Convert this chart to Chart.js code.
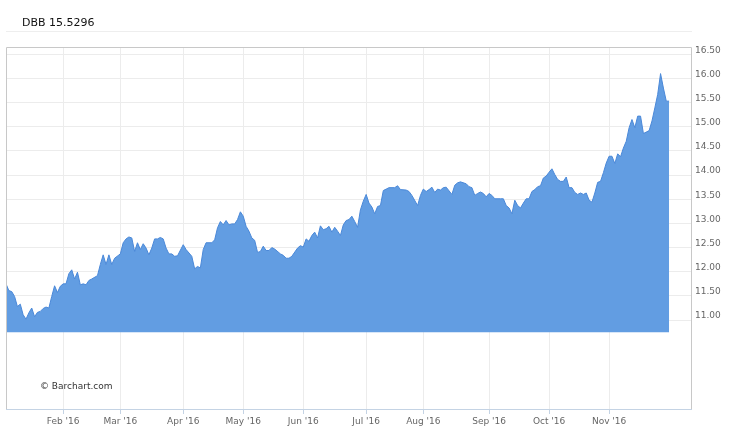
<!DOCTYPE html>
<html>
<head>
<meta charset="utf-8">
<script src="https://cdn.jsdelivr.net/npm/chart.js@4.4.1/dist/chart.umd.min.js"></script>
<style>
  body { margin: 0; background: #fff; }
  #wrap { position: relative; width: 750px; height: 433px; }
  #title { position: absolute; left: 22px; top: 16px; font: 11px 'DejaVu Sans', sans-serif; line-height: 13px; color: #111; }
  #sep { position: absolute; left: 6px; top: 31px; width: 686px; height: 0; border-top: 1px solid #eeeeee; }
  #credit { position: absolute; left: 40px; top: 381px; font: 9px 'DejaVu Sans', sans-serif; line-height: 11px; color: #333; }
</style>
</head>
<body>
<div id="wrap">
  <canvas id="chart" width="750" height="433"></canvas>
  <div id="title">DBB 15.5296</div>
  <div id="sep"></div>
  <div id="credit">© Barchart.com</div>
</div>
<script>
// trading-day index (0 = first session shown) and closing price
const days = [
  0, 1, 2, 3, 4, 5, 6, 7, 8, 9, 10, 11, 12, 13, 14, 15, 16, 17, 18, 19,
  20, 21, 22, 23, 24, 25, 26, 27, 28, 29, 30, 32, 33, 34, 35, 36, 37, 38, 40, 41,
  42, 43, 44, 45, 46, 47, 48, 49, 50, 51, 52, 53, 54, 55, 56, 57, 58, 59, 60, 62,
  63, 65, 66, 67, 68, 69, 70, 72, 73, 74, 75, 76, 77, 78, 79, 80, 81, 82, 83, 84,
  85, 86, 87, 88, 89, 90, 91, 92, 93, 94, 96, 97, 98, 99, 100, 102, 103, 104, 105, 106,
  107, 108, 109, 110, 111, 112, 113, 114, 115, 116, 117, 118, 119, 120, 121, 122, 123, 124, 125, 126,
  127, 128, 129, 130, 131, 132, 133, 134, 136, 137, 138, 140, 141, 142, 144, 145, 146, 147, 148, 149,
  150, 151, 152, 153, 154, 156, 157, 158, 159, 161, 162, 163, 164, 165, 166, 167, 168, 169, 170, 171,
  173, 174, 175, 176, 177, 178, 179, 180, 181, 182, 183, 184, 185, 186, 187, 188, 189, 190, 191, 192,
  193, 194, 195, 196, 197, 198, 199, 200, 201, 202, 203, 204, 205, 206, 207, 208, 209, 210, 211, 212,
  213, 214, 215, 216, 217, 218, 219, 220, 221, 222, 223, 224, 225, 226, 227, 228, 229, 230, 231, 232
];
const prices = [
  11.75, 11.61, 11.59, 11.49, 11.28, 11.33, 11.11, 11.02, 11.15, 11.25, 11.07, 11.16, 11.18, 11.24, 11.27, 11.25, 11.49, 11.71, 11.57, 11.70,
  11.75, 11.75, 11.96, 12.04, 11.85, 11.99, 11.73, 11.75, 11.73, 11.82, 11.85, 11.92, 12.15, 12.35, 12.15, 12.35, 12.15, 12.28, 12.37, 12.60,
  12.68, 12.72, 12.70, 12.42, 12.60, 12.46, 12.58, 12.49, 12.35, 12.49, 12.68, 12.68, 12.71, 12.68, 12.49, 12.37, 12.37, 12.32, 12.33, 12.56,
  12.46, 12.32, 12.06, 12.11, 12.08, 12.46, 12.60, 12.60, 12.66, 12.91, 13.04, 12.97, 13.06, 12.97, 12.99, 12.99, 13.08, 13.24, 13.15, 12.94,
  12.84, 12.70, 12.65, 12.40, 12.42, 12.53, 12.44, 12.44, 12.50, 12.47, 12.37, 12.34, 12.28, 12.28, 12.32, 12.49, 12.54, 12.51, 12.68, 12.63,
  12.75, 12.82, 12.70, 12.95, 12.87, 12.89, 12.94, 12.82, 12.92, 12.84, 12.75, 12.97, 13.06, 13.08, 13.15, 13.04, 12.92, 13.28, 13.46, 13.60,
  13.42, 13.34, 13.20, 13.35, 13.37, 13.68, 13.71, 13.74, 13.74, 13.78, 13.70, 13.69, 13.66, 13.58, 13.37, 13.58, 13.71, 13.66, 13.70, 13.75,
  13.64, 13.71, 13.69, 13.74, 13.75, 13.60, 13.79, 13.84, 13.86, 13.82, 13.76, 13.74, 13.58, 13.62, 13.65, 13.62, 13.55, 13.62, 13.58, 13.51,
  13.51, 13.51, 13.37, 13.32, 13.20, 13.48, 13.37, 13.32, 13.42, 13.51, 13.51, 13.66, 13.70, 13.76, 13.78, 13.94, 13.98, 14.06, 14.13, 14.01,
  13.91, 13.87, 13.87, 13.96, 13.74, 13.74, 13.64, 13.60, 13.63, 13.60, 13.63, 13.48, 13.44, 13.63, 13.85, 13.87, 14.05, 14.25, 14.39, 14.39,
  14.24, 14.44, 14.38, 14.56, 14.70, 14.98, 15.15, 14.98, 15.22, 15.22, 14.86, 14.89, 14.92, 15.12, 15.39, 15.67, 16.10, 15.80, 15.53, 15.53
];

// first session of each month, with its label
const monthDays = [20, 40, 62, 83, 104, 126, 146, 169, 190, 211];
const monthLabels = ["Feb '16", "Mar '16", "Apr '16", "May '16", "Jun '16", "Jul '16", "Aug '16", "Sep '16", "Oct '16", "Nov '16"];

const priceTicks = [11, 11.5, 12, 12.5, 13, 13.5, 14, 14.5, 15, 15.5, 16, 16.5];
const areaBase = 10.75;

Chart.defaults.font.family = "'DejaVu Sans', sans-serif";
Chart.defaults.font.size = 9;
Chart.defaults.color = '#666';

// plot frame: grey on three sides, bluish base line
const framePlugin = {
  id: 'frame',
  afterDraw(chart) {
    const a = chart.chartArea;
    const ctx = chart.ctx;
    ctx.save();
    ctx.lineWidth = 1;
    ctx.strokeStyle = '#c8c8c8';
    ctx.beginPath();
    ctx.moveTo(a.left + 0.5, a.bottom);
    ctx.lineTo(a.left + 0.5, a.top + 0.5);
    ctx.lineTo(a.right - 0.5, a.top + 0.5);
    ctx.lineTo(a.right - 0.5, a.bottom);
    ctx.stroke();
    ctx.strokeStyle = '#c4d3e4';
    ctx.beginPath();
    ctx.moveTo(a.left, a.bottom - 0.5);
    ctx.lineTo(a.right, a.bottom - 0.5);
    ctx.stroke();
    ctx.restore();
  }
};

const ctx = document.getElementById('chart').getContext('2d');
new Chart(ctx, {
  type: 'line',
  data: {
    datasets: [{
      label: 'DBB',
      data: days.map((d, i) => ({ x: d, y: prices[i] })),
      borderColor: '#4a88d8',
      borderWidth: 1,
      backgroundColor: '#629de2',
      fill: { value: areaBase },
      pointRadius: 0,
      tension: 0
    }]
  },
  options: {
    responsive: false,
    animation: false,
    layout: { padding: { left: 6, top: 47, right: 0, bottom: 0 } },
    plugins: { legend: { display: false }, tooltip: { enabled: false } },
    scales: {
      x: {
        type: 'linear',
        min: 0,
        max: 240,
        afterBuildTicks: (s) => { s.ticks = monthDays.map(v => ({ value: v })); },
        afterFit: (s) => { s.height = 23; },
        ticks: {
          autoSkip: false,
          maxRotation: 0,
          padding: 2,
          color: '#666',
          callback: (v) => monthLabels[monthDays.indexOf(v)]
        },
        grid: { color: '#ececec', tickColor: '#c4d3e4', tickLength: 4 },
        border: { display: false }
      },
      y: {
        position: 'right',
        min: 9.14,
        max: 16.65,
        afterBuildTicks: (s) => { s.ticks = priceTicks.map(v => ({ value: v })); },
        afterFit: (s) => { s.width = 58; },
        ticks: {
          padding: 3,
          labelOffset: -4,
          color: '#666',
          callback: (v) => Number(v).toFixed(2)
        },
        grid: { color: '#ececec', drawTicks: false },
        border: { display: false }
      }
    }
  },
  plugins: [framePlugin]
});
</script>
</body>
</html>
